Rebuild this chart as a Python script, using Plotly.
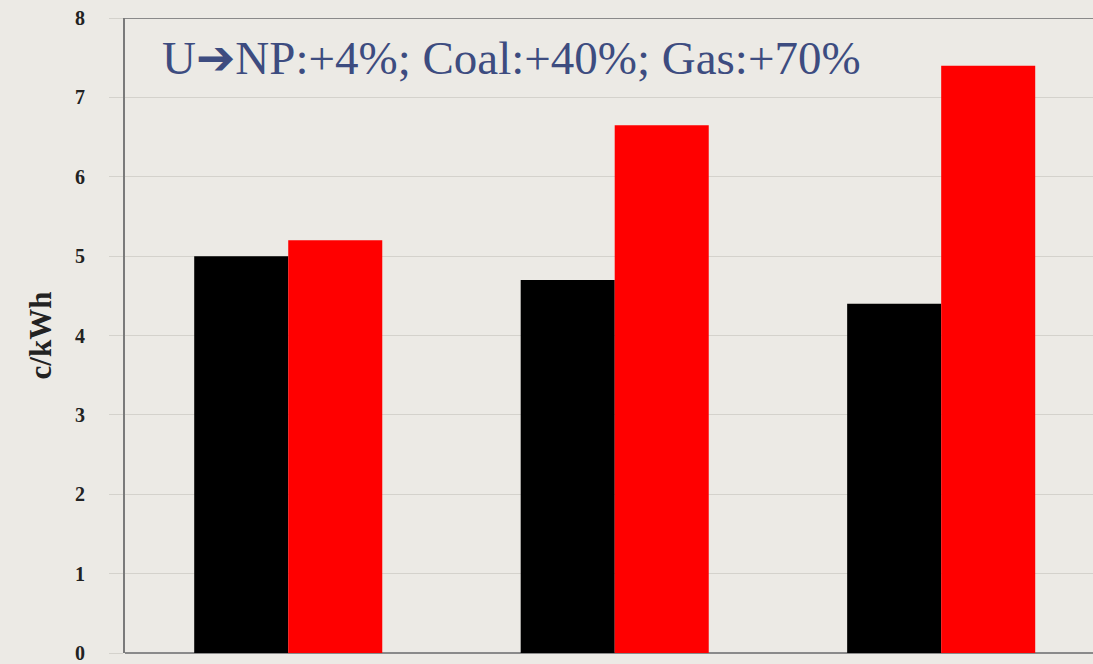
import plotly.graph_objects as go

categories = [0, 1, 2]
black_values = [5.0, 4.7, 4.4]
red_values = [5.2, 6.65, 7.4]
y_ticks = [0, 1, 2, 3, 4, 5, 6, 7, 8]
note_text = "U<span style='font-family:DejaVu Sans'>\u2794</span>NP:+4%; Coal:+40%; Gas:+70%"

BG = "#ECEAE5"
SERIF = "Liberation Serif, Times New Roman, serif"

fig = go.Figure()
fig.add_trace(go.Bar(x=categories, y=black_values, marker=dict(color="#000000", line=dict(width=0)), showlegend=False))
fig.add_trace(go.Bar(x=categories, y=red_values, marker=dict(color="#FF0000", line=dict(width=0)), showlegend=False))

fig.add_annotation(
    x=0.036, xref="paper", xanchor="left",
    y=7.5, yref="y", yanchor="middle",
    text=note_text, showarrow=False,
    font=dict(family=SERIF, size=47, color="#3D4C80"),
)

fig.update_layout(
    width=1093, height=664,
    margin=dict(l=125, r=0, t=18, b=8),
    paper_bgcolor=BG, plot_bgcolor=BG,
    barmode="group", bargap=0.424, bargroupgap=0,
    xaxis=dict(range=[-0.5, 2.465], showticklabels=False, showgrid=False,
               zeroline=False, showline=False, ticks=""),
    yaxis=dict(range=[0, 8], tickvals=y_ticks, showgrid=True, gridcolor="#D4D2CC", gridwidth=1,
               zeroline=True, zerolinecolor="#8A8A8A", zerolinewidth=2,
               showline=True, linecolor="#7A7A7A", linewidth=2, mirror=False,
               ticks="outside", ticklen=14, tickcolor="#D4D2CC",
               ticklabelstandoff=20, ticklabeloverflow="allow",
               tickfont=dict(family=SERIF, size=20, color="#222222", weight="bold"),
               title=dict(text="c/kWh", font=dict(family=SERIF, size=31, color="#222222", weight="bold"), standoff=14)),
)

# top border of plot area
fig.add_shape(type="line", xref="paper", yref="y", x0=0, x1=1, y0=8, y1=8,
              line=dict(color="#8A8A8A", width=2))

fig.write_html(
    "out.html",
    config={"displayModeBar": False},
    post_script="document.body.style.margin='0';document.body.style.overflow='hidden';",
)
